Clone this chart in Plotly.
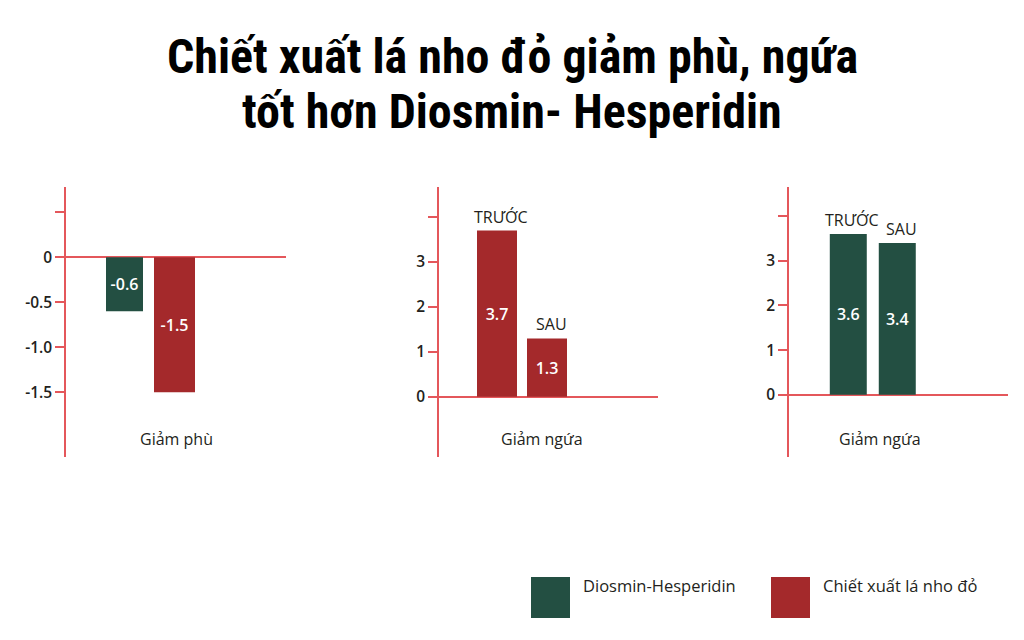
import plotly.graph_objects as go

# ---------------- data ----------------
title_lines = ["Chiết xuất lá nho đỏ giảm phù, ngứa", "tốt hơn Diosmin- Hesperidin"]
series_names = ["Diosmin-Hesperidin", "Chiết xuất lá nho đỏ"]
series_colors = ["#234f42", "#a4292b"]

phu_category = ["Giảm phù"]
phu_diosmin = [-0.6]
phu_nho = [-1.5]

periods = ["TRƯỚC", "SAU"]
ngua_nho = [3.7, 1.3]
ngua_diosmin = [3.6, 3.4]
ngua_label = "Giảm ngứa"

phu_tickvals = [0.5, 0, -0.5, -1.0, -1.5]
phu_ticktext = ["", "0", "-0.5", "-1.0", "-1.5"]
ngua_tickvals = [4, 3, 2, 1, 0]
ngua_ticktext = ["", "3", "2", "1", "0"]

# ---------------- style ----------------
AX = "#e4575b"
TXT = "#231f20"
FONT = "Open Sans"
W, H = 1024, 640


def px(x):
    return x / W


def py(y):
    return 1 - y / H


ydom = [py(457), py(187)]

fig = go.Figure()

bar_text = dict(textposition="inside", insidetextanchor="middle",
                textfont=dict(color="white", size=16, family=FONT, weight=600),
                marker_line_width=0, showlegend=False, cliponaxis=False)


def labels(vals):
    return [str(v) for v in vals]


# panel 1
fig.add_trace(go.Bar(x=phu_category, y=phu_diosmin, name=series_names[0], text=labels(phu_diosmin),
                     marker_color=series_colors[0], offset=-0.44, width=0.37,
                     xaxis="x", yaxis="y", **bar_text))
fig.add_trace(go.Bar(x=phu_category, y=phu_nho, name=series_names[1], text=labels(phu_nho),
                     marker_color=series_colors[1], offset=0.04, width=0.41,
                     xaxis="x", yaxis="y", **bar_text))
# panel 2
fig.add_trace(go.Bar(x=periods, y=ngua_nho, name=series_names[1], text=labels(ngua_nho),
                     marker_color=series_colors[1], width=0.8,
                     xaxis="x2", yaxis="y2", **bar_text))
# panel 3
fig.add_trace(go.Bar(x=periods, y=ngua_diosmin, name=series_names[0], text=labels(ngua_diosmin),
                     marker_color=series_colors[0], width=0.755,
                     xaxis="x3", yaxis="y3", **bar_text))

# period labels above bars
ann = []
for xr, vals in (("x2", ngua_nho), ("x3", ngua_diosmin)):
    for p, v in zip(periods, vals):
        ann.append(dict(x=p, y=v, xref=xr, yref="y" + xr[1:], text=p, showarrow=False,
                        yanchor="bottom", yshift=1, xshift=4,
                        font=dict(family=FONT, size=16, color=TXT)))

# category labels under each panel
for xr, txt, fx in (("x domain", phu_category[0], 0.5),
                    ("x2 domain", ngua_label, 0.274),
                    ("x3 domain", ngua_label, 0.416)):
    ann.append(dict(x=fx, xref=xr, y=py(452), yref="paper", text=txt, showarrow=False,
                    font=dict(family=FONT, size=16, color=TXT)))

# title
for i, line in enumerate(title_lines):
    ann.append(dict(x=0.5, xref="paper", y=py(56 + 55 * i), yref="paper", text=line,
                    showarrow=False, yanchor="middle",
                    font=dict(family="Roboto Condensed, Liberation Sans Narrow, DejaVu Sans Condensed, Roboto",
                              size=48, color="black", weight="bold")))

# legend (large swatches)
shapes = []
legend_x = [531, 771]
for name, col, lx in zip(series_names, series_colors, legend_x):
    shapes.append(dict(type="rect", xref="paper", yref="paper",
                       x0=px(lx), x1=px(lx + 39), y0=py(618), y1=py(577),
                       fillcolor=col, line=dict(width=0)))
    ann.append(dict(x=px(lx + 50), y=py(599), xref="paper", yref="paper", text=name,
                    showarrow=False, xanchor="left",
                    font=dict(family=FONT, size=16.5, color=TXT)))

xcommon = dict(showline=False, showticklabels=False, ticks="", showgrid=False,
               zeroline=False, fixedrange=True)


def ycommon(rng, tv, tt):
    return dict(range=rng, domain=ydom, showline=True, linecolor=AX, linewidth=1.5,
                ticks="outside", ticklen=9, tickwidth=1.5, tickcolor=AX,
                tickvals=tv, ticktext=tt, showgrid=False, zeroline=True,
                zerolinecolor=AX, zerolinewidth=1.5,
                tickfont=dict(family=FONT, size=15.5, color=TXT, weight=600))


def yinside(rng, tv, over, anchor):
    return dict(range=rng, domain=ydom, overlaying=over, anchor=anchor, showline=False,
                ticks="inside", ticklen=6, tickwidth=1.5, tickcolor=AX,
                tickvals=tv, showticklabels=False, showgrid=False, zeroline=False)


r1, r2, r3 = [-2.22, 0.78], [-1.34, 4.67], [-1.39, 4.65]

fig.update_layout(
    width=W, height=H, autosize=False,
    margin=dict(l=0, r=0, t=0, b=0),
    paper_bgcolor="white", plot_bgcolor="rgba(0,0,0,0)",
    barmode="overlay", showlegend=False,
    xaxis=dict(domain=[px(66), px(286)], range=[-0.84, 1.36], anchor="y", **xcommon),
    xaxis2=dict(domain=[px(439), px(658)], range=[-1.16, 3.22], anchor="y2", **xcommon),
    xaxis3=dict(domain=[px(789), px(1008)], range=[-1.21, 3.26], anchor="y3", **xcommon),
    yaxis=dict(anchor="x", **ycommon(r1, phu_tickvals, phu_ticktext)),
    yaxis2=dict(anchor="x2", **ycommon(r2, ngua_tickvals, ngua_ticktext)),
    yaxis3=dict(anchor="x3", **ycommon(r3, ngua_tickvals, ngua_ticktext)),
    yaxis4=yinside(r1, phu_tickvals, "y", "x"),
    yaxis5=yinside(r2, ngua_tickvals, "y2", "x2"),
    yaxis6=yinside(r3, ngua_tickvals, "y3", "x3"),
    annotations=ann, shapes=shapes,
)

fig.write_html("out.html", config=dict(displayModeBar=False))
